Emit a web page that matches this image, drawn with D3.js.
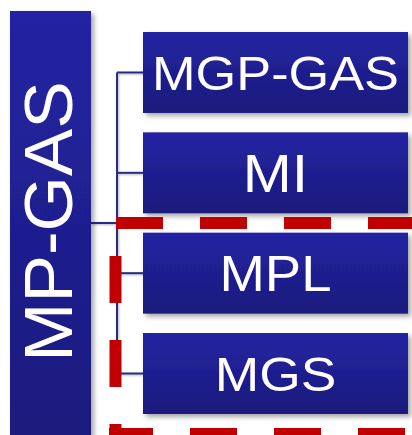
<!DOCTYPE html>
<html>
<head>
<meta charset="utf-8">
<script src="https://cdn.jsdelivr.net/npm/d3@7"></script>
<style>
  body { margin: 0; background: #fff; }
  svg { display: block; }
</style>
</head>
<body>
<script>
// org chart content
var rootLabel = "MP-GAS";
var children = ["MGP-GAS", "MI", "MPL", "MGS"];
// label sizes differ a bit in the original (autofit)
var labelSize = { "MGP-GAS": 48, "MI": 54, "MPL": 50, "MGS": 49 };

var width = 412,
    height = 435;

var svg = d3.select("body").append("svg")
    .attr("width", width)
    .attr("height", height);

var defs = svg.append("defs");

var grad = defs.append("linearGradient")
    .attr("id", "boxfill")
    .attr("x1", 0).attr("y1", 0)
    .attr("x2", 0).attr("y2", 1);
grad.append("stop").attr("offset", "0%").attr("stop-color", "#2323a3");
grad.append("stop").attr("offset", "100%").attr("stop-color", "#1b1b7c");

var shadow = defs.append("filter")
    .attr("id", "shadow")
    .attr("x", "-20%").attr("y", "-20%")
    .attr("width", "140%").attr("height", "140%");
shadow.append("feDropShadow")
    .attr("dx", 3).attr("dy", 3)
    .attr("stdDeviation", 2.5)
    .attr("flood-color", "#000")
    .attr("flood-opacity", 0.35);

var lineShadow = defs.append("filter")
    .attr("id", "lineshadow");
lineShadow.append("feDropShadow")
    .attr("dx", 1).attr("dy", 1)
    .attr("stdDeviation", 0.8)
    .attr("flood-color", "#000")
    .attr("flood-opacity", 0.3);

// vertical placement of the child boxes
var y = d3.scaleBand()
    .domain(children)
    .range([32, 414])
    .paddingInner(0.193);

var x = d3.scaleLinear()
    .domain([0, 1])
    .range([143, 408]);

var root = { x0: 10, x1: 91, y0: 11, y1: 450 };
var trunkX = 117;
var rootMidY = 223;
var stretch = 1.09; // the original's type runs a little wide

// connectors
var conn = svg.append("g")
    .attr("stroke", "#2a2a86")
    .attr("stroke-width", 2)
    .attr("fill", "none")
    .attr("filter", "url(#lineshadow)");

conn.append("line")
    .attr("x1", root.x1).attr("x2", trunkX)
    .attr("y1", rootMidY).attr("y2", rootMidY);

conn.append("line")
    .attr("x1", trunkX).attr("x2", trunkX)
    .attr("y1", y(children[0]) + y.bandwidth() / 2)
    .attr("y2", y(children[children.length - 1]) + y.bandwidth() / 2);

conn.selectAll("line.branch")
    .data(children)
    .enter()
    .append("line")
    .attr("class", "branch")
    .attr("x1", trunkX).attr("x2", x(0))
    .attr("y1", function (d) { return y(d) + y.bandwidth() / 2; })
    .attr("y2", function (d) { return y(d) + y.bandwidth() / 2; });

// root box
svg.append("rect")
    .attr("x", root.x0)
    .attr("y", root.y0)
    .attr("width", root.x1 - root.x0)
    .attr("height", root.y1 - root.y0)
    .attr("fill", "url(#boxfill)")
    .attr("filter", "url(#shadow)");

svg.append("text")
    .attr("transform", "translate(72,221.5) rotate(-90) scale(1.03,1)")
    .attr("text-anchor", "middle")
    .attr("fill", "#fff")
    .style("font-family", "'Liberation Sans', Arial, sans-serif")
    .style("font-size", "69px")
    .text(rootLabel);

// child boxes
var nodes = svg.selectAll("g.node")
    .data(children)
    .enter()
    .append("g")
    .attr("class", "node");

nodes.append("rect")
    .attr("x", x(0))
    .attr("y", function (d) { return y(d); })
    .attr("width", x(1) - x(0))
    .attr("height", y.bandwidth())
    .attr("fill", "url(#boxfill)")
    .attr("filter", "url(#shadow)");

nodes.append("text")
    .attr("transform", function (d) {
        var cx = (x(0) + x(1)) / 2,
            cy = y(d) + y.bandwidth() / 2 + labelSize[d] * 0.36;
        return "translate(" + cx + "," + cy + ") scale(" + stretch + ",1)";
    })
    .attr("text-anchor", "middle")
    .attr("fill", "#fff")
    .style("font-family", "'Liberation Sans', Arial, sans-serif")
    .style("font-size", function (d) { return labelSize[d] + "px"; })
    .text(function (d) { return d; });

// red dashed highlight round the lower group
var red = svg.append("g")
    .attr("stroke", "#c00000")
    .attr("stroke-width", 12)
    .attr("stroke-dasharray", "47,37")
    .attr("fill", "none");

red.append("line")
    .attr("x1", 116).attr("x2", 430)
    .attr("y1", rootMidY).attr("y2", rootMidY);

red.append("line")
    .attr("x1", 115.5).attr("x2", 115.5)
    .attr("y1", 256).attr("y2", 480);

red.append("line")
    .attr("stroke-dashoffset", 3)
    .attr("x1", 109).attr("x2", 430)
    .attr("y1", 434).attr("y2", 434);
</script>
</body>
</html>
